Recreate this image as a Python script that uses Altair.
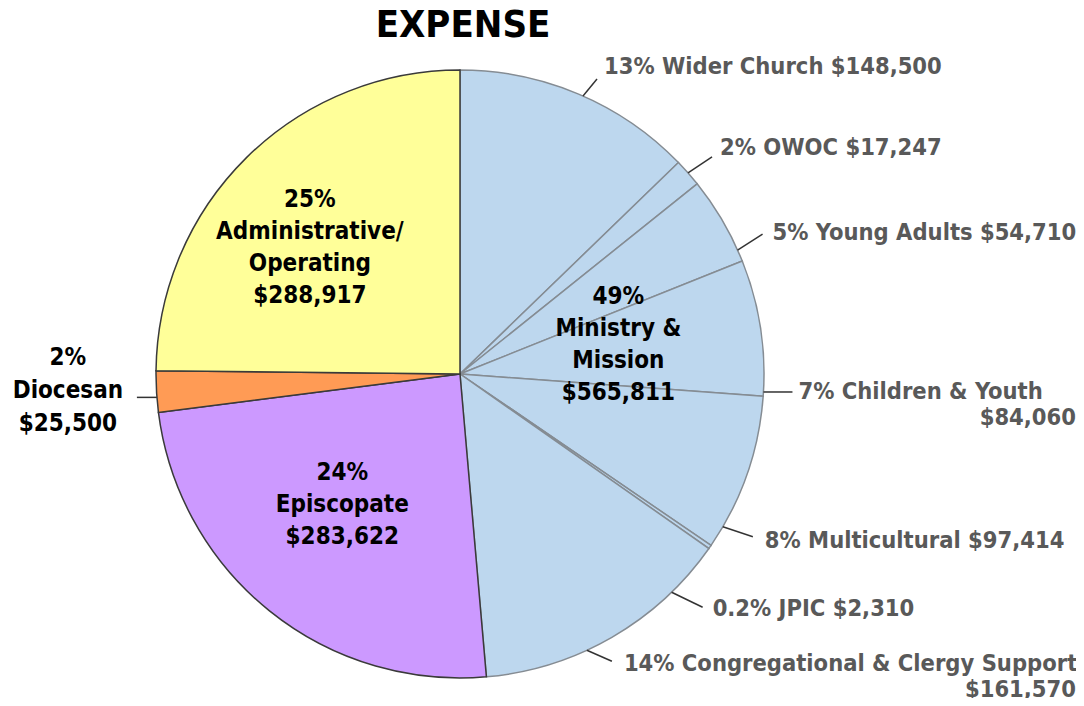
import altair as alt
import pandas as pd

# ---------------- data ----------------
categories = ["Wider Church", "OWOC", "Young Adults", "Children & Youth",
              "Multicultural", "JPIC", "Congregational & Clergy Support",
              "Episcopate", "Diocesan", "Administrative/Operating"]
values = [148500, 17247, 54710, 84060, 97414, 2310, 161570, 283622, 25500, 288917]
groups = ["Ministry & Mission"] * 7 + ["Episcopate", "Diocesan", "Administrative/Operating"]
percents = ["13%", "2%", "5%", "7%", "8%", "0.2%", "14%", "24%", "2%", "25%"]

group_names = ["Ministry & Mission", "Episcopate", "Diocesan", "Administrative/Operating"]
group_percents = ["49%", "24%", "2%", "25%"]
group_display = ["Ministry &\nMission", "Episcopate", "Diocesan", "Administrative/\nOperating"]
title_text = "EXPENSE"

# ---------------- layout & style ----------------
W, H = 1068, 690
CX, CY, R = 452, 366, 304
FONT = "DejaVu Sans Condensed, DejaVu Sans"
OUT_SIZE = 23.5
IN_SIZE = 24
IN_LH = 32
SIDE_LH = 33

slice_fill = ["#BDD7EE"] * 7 + ["#CC99FF", "#FF9B55", "#FFFF99"]
slice_stroke = ["#858C93"] * 7 + ["#3A3A3A", "#3A3A3A", "#3A3A3A"]

# label layout: angle adjust (deg), leader dx, leader dy, text dx, text dy, wrapped
outer_layout = {
    "Wider Church": (0.9, 14, -17, 7, -12, False),
    "OWOC": (0.0, 24, -16, 8, -9, False),
    "Young Adults": (6.2, 25, -16, 10, -1, False),
    "Children & Youth": (12.2, 29, 0, 6, 0, True),
    "Multicultural": (10.9, 30, 10, 12, 4, False),
    "JPIC": (11.2, 31, 15, 10, 2, False),
    "Congregational & Clergy Support": (5.3, 25, 11, 12, 3, True),
    "Diocesan": (-1.1, -20, 0, -69, -6, False),
}
side_labels = ["Diocesan"]
inner_layout = {  # angle adjust (deg), radius
    "Ministry & Mission": (-7.9, 161),
    "Episcopate": (3.1, 176),
    "Administrative/Operating": (-5.3, 196),
}

# ---------------- tables ----------------
rows = []
for i, (c, v, g, p) in enumerate(zip(categories, values, groups, percents)):
    lay = outer_layout.get(c)
    row = dict(cat=c, value=v, idx=i, grp=g, pct=p,
               has_label=lay is not None, adj=0.0, ldx=0, ldy=0, tdx=0, tdy=0,
               line1="", line2="", style="none")
    if lay is not None:
        adj, ldx, ldy, tdx, tdy, wrap = lay
        row.update(adj=adj, ldx=ldx, ldy=ldy, tdx=tdx, tdy=tdy)
        if c in side_labels:
            row.update(style="side", line1=f"{p}\n{c}\n${v:,}")
        elif wrap:
            row.update(style="right", line1=f"{p} {c}", line2=f"${v:,}")
        else:
            row.update(style="right", line1=f"{p} {c} ${v:,}")
    rows.append(row)
df = pd.DataFrame(rows)

gsum = df.groupby("grp")["value"].sum()
grows = []
for i, (g, gp, gd) in enumerate(zip(group_names, group_percents, group_display)):
    gv = int(gsum[g])
    lay = inner_layout.get(g)
    grows.append(dict(grp=g, gvalue=gv, gidx=i, has_inner=lay is not None,
                      adj=lay[0] if lay else 0.0, r=lay[1] if lay else 0,
                      text=f"{gp}\n{gd}\n${gv:,}"))
gdf = pd.DataFrame(grows)

# ---------------- chart ----------------
arcs = alt.Chart(df).mark_arc(outerRadius=R, strokeWidth=1.5).encode(
    theta=alt.Theta("value:Q", stack=True),
    order=alt.Order("idx:Q", sort="ascending"),
    color=alt.Color("cat:N", scale=alt.Scale(domain=categories, range=slice_fill), legend=None),
    stroke=alt.Stroke("cat:N", scale=alt.Scale(domain=categories, range=slice_stroke), legend=None),
    x=alt.value(CX), y=alt.value(CY),
)

base = (
    alt.Chart(df)
    .transform_window(cum="sum(value)", sort=[alt.SortField("idx", order="ascending")], frame=[None, 0])
    .transform_joinaggregate(total="sum(value)")
    .transform_filter("datum.has_label")
    .transform_calculate(a="(datum.cum - datum.value / 2) / datum.total * 2 * PI + datum.adj * PI / 180")
    .transform_calculate(sx=f"{CX} + {R} * sin(datum.a)", sy=f"{CY} - {R} * cos(datum.a)")
    .transform_calculate(ex="datum.sx + datum.ldx", ey="datum.sy + datum.ldy")
    .transform_calculate(
        tx="datum.ex + datum.tdx",
        ty="datum.ey + datum.tdy",
        ty2="datum.ey + datum.tdy + 26",
        tyc=f"datum.ey + datum.tdy - (split(datum.line1, '\\n').length - 1) / 2 * {SIDE_LH}",
    )
)

leaders = base.mark_rule(color="#333333", strokeWidth=1.5).encode(
    x=alt.X("sx:Q", scale=None, axis=None), y=alt.Y("sy:Q", scale=None, axis=None),
    x2="ex:Q", y2="ey:Q",
)

outer = base.transform_filter("datum.style == 'right'").mark_text(
    align="left", baseline="middle", font=FONT, fontWeight="bold",
    fontSize=OUT_SIZE, color="#595959",
).encode(x=alt.X("tx:Q", scale=None, axis=None), y=alt.Y("ty:Q", scale=None, axis=None), text="line1:N")

outer2 = base.transform_filter("datum.line2 != ''").mark_text(
    align="right", baseline="middle", font=FONT, fontWeight="bold",
    fontSize=OUT_SIZE, color="#595959",
).encode(x=alt.value(W), y=alt.Y("ty2:Q", scale=None, axis=None), text="line2:N")

side = base.transform_filter("datum.style == 'side'").mark_text(
    align="center", baseline="middle", font=FONT, fontWeight="bold",
    fontSize=IN_SIZE, color="black", lineBreak="\n", lineHeight=SIDE_LH,
).encode(x=alt.X("tx:Q", scale=None, axis=None), y=alt.Y("tyc:Q", scale=None, axis=None), text="line1:N")

inner = (
    alt.Chart(gdf)
    .transform_window(cum="sum(gvalue)", sort=[alt.SortField("gidx", order="ascending")], frame=[None, 0])
    .transform_joinaggregate(total="sum(gvalue)")
    .transform_filter("datum.has_inner")
    .transform_calculate(a="(datum.cum - datum.gvalue / 2) / datum.total * 2 * PI + datum.adj * PI / 180")
    .transform_calculate(
        px=f"{CX} + datum.r * sin(datum.a)",
        py=f"{CY} - datum.r * cos(datum.a) - (split(datum.text, '\\n').length - 1) / 2 * {IN_LH}",
    )
    .mark_text(align="center", baseline="middle", font=FONT, fontWeight="bold",
               fontSize=IN_SIZE, color="black", lineBreak="\n", lineHeight=IN_LH)
    .encode(x=alt.X("px:Q", scale=None, axis=None), y=alt.Y("py:Q", scale=None, axis=None), text="text:N")
)

title = alt.Chart(pd.DataFrame({"t": [title_text]})).mark_text(
    align="center", baseline="middle", font=FONT, fontWeight="bold", fontSize=38, color="black",
).encode(x=alt.value(455), y=alt.value(18), text="t:N")

chart = (
    alt.layer(arcs, leaders, outer, outer2, side, inner, title)
    .properties(width=W, height=H, autosize="none", padding=0, background="white")
    .configure_view(strokeWidth=0)
)

chart.save("out.html", embed_options={"renderer": "svg", "actions": False})
